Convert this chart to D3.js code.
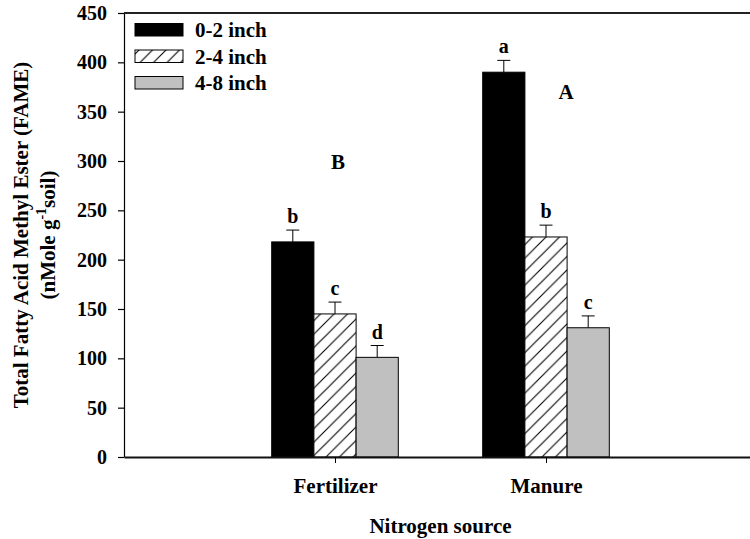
<!DOCTYPE html>
<html>
<head>
<meta charset="utf-8">
<script src="https://cdn.jsdelivr.net/npm/d3@7"></script>
<style>
  html, body { margin: 0; padding: 0; background: #fff; }
  svg { display: block; }
  text { font-family: "Liberation Serif", "Times New Roman", serif; font-weight: bold; fill: #000; }
</style>
</head>
<body>
<svg id="chart" width="750" height="539"></svg>
<script>
// Nitrogen sources and soil depth layers
const sources = ["Fertilizer", "Manure"];
const depths = ["0-2 inch", "2-4 inch", "4-8 inch"];

// Mean total FAME (nMole g-1 soil) per depth, one array per depth layer
const depth0to2 = [218, 390];
const depth2to4 = [145, 223];
const depth4to8 = [101, 131];

// Standard errors (upper bars only)
const err0to2 = [12, 12];
const err2to4 = [12, 12];
const err4to8 = [12, 12];

// Mean separation letters within each source, and letters between sources
const letters0to2 = ["b", "a"];
const letters2to4 = ["c", "b"];
const letters4to8 = ["d", "c"];
const sourceLetters = ["B", "A"];
const sourceLetterValues = [292, 363];

const yTicks = [0, 50, 100, 150, 200, 250, 300, 350, 400, 450];

const values = [depth0to2, depth2to4, depth4to8];
const errors = [err0to2, err2to4, err4to8];
const letters = [letters0to2, letters2to4, letters4to8];

const svg = d3.select("#chart");

const plotLeft = 124, plotTop = 13, plotBottom = 457;
// the category axis runs 0..3 with sources at 1 and 2; its right end lies past the frame
const x = d3.scaleLinear().domain([0, 3]).range([plotLeft, 757]);
const y = d3.scaleLinear().domain([0, 450]).range([plotBottom, plotTop]);
const barW = 0.2; // bar width in category units

const fills = ["#000000", "url(#hatch)", "#c0c0c0"];

// Diagonal hatching for the 2-4 inch layer
const hp = 13.5;
const defs = svg.append("defs");
const pat = defs.append("pattern")
  .attr("id", "hatch")
  .attr("patternUnits", "userSpaceOnUse")
  .attr("width", hp).attr("height", hp);
pat.append("rect").attr("width", hp).attr("height", hp).attr("fill", "#fff");
pat.append("path")
  .attr("d", `M-1,1 L1,-1 M0,${hp} L${hp},0 M${hp - 1},${hp + 1} L${hp + 1},${hp - 1}`)
  .attr("stroke", "#000").attr("stroke-width", 1.1);

// Bars
const bars = [];
sources.forEach((s, i) => {
  depths.forEach((d, j) => {
    bars.push({ i, j, v: values[j][i], e: errors[j][i], l: letters[j][i] });
  });
});

const g = svg.append("g");

// Error bars (drawn first, bars sit on top)
g.selectAll("line.err").data(bars).join("line")
  .attr("class", "err")
  .attr("x1", d => x(d.i + 1 + (d.j - 1) * barW))
  .attr("x2", d => x(d.i + 1 + (d.j - 1) * barW))
  .attr("y1", d => y(d.v))
  .attr("y2", d => y(d.v + d.e))
  .attr("stroke", "#000").attr("stroke-width", 1);
g.selectAll("line.cap").data(bars).join("line")
  .attr("class", "cap")
  .attr("x1", d => x(d.i + 1 + (d.j - 1) * barW) - 6.5)
  .attr("x2", d => x(d.i + 1 + (d.j - 1) * barW) + 6.5)
  .attr("y1", d => y(d.v + d.e))
  .attr("y2", d => y(d.v + d.e))
  .attr("stroke", "#000").attr("stroke-width", 1);

g.selectAll("rect.bar").data(bars).join("rect")
  .attr("class", "bar")
  .attr("x", d => x(d.i + 1 + (d.j - 1.5) * barW))
  .attr("width", d => x(barW) - x(0))
  .attr("y", d => y(d.v))
  .attr("height", d => y(0) - y(d.v))
  .attr("fill", d => fills[d.j])
  .attr("stroke", "#000").attr("stroke-width", 1);

// Letters above error bars
g.selectAll("text.let").data(bars).join("text")
  .attr("class", "let")
  .attr("x", d => x(d.i + 1 + (d.j - 1) * barW))
  .attr("y", d => y(d.v + d.e) - 7)
  .attr("text-anchor", "middle")
  .attr("font-size", 20)
  .text(d => d.l);

// Source-level letters
g.selectAll("text.src").data(sources).join("text")
  .attr("class", "src")
  .attr("x", (d, i) => x(i + 1) + (i === 0 ? 3 : 20))
  .attr("y", (d, i) => y(sourceLetterValues[i]))
  .attr("text-anchor", "middle")
  .attr("font-size", 21)
  .text((d, i) => sourceLetters[i]);

// Axes
const yAxis = d3.axisLeft(y).tickValues(yTicks).tickSize(6).tickPadding(11).tickSizeOuter(0);
const yG = svg.append("g").attr("transform", `translate(${plotLeft},0)`).call(yAxis);
yG.selectAll("text").attr("font-size", 20).attr("font-family", "Liberation Serif").attr("font-weight", "bold").attr("fill", "#000");
yG.select(".domain").attr("stroke", "#000").attr("stroke-width", 1.2);
yG.selectAll(".tick line").attr("stroke", "#000").attr("stroke-width", 1.2);

const xAxis = d3.axisBottom(x).tickValues([1, 2]).tickFormat((d) => sources[d - 1]).tickSize(6).tickPadding(15).tickSizeOuter(0);
const xG = svg.append("g").attr("transform", `translate(0,${plotBottom})`).call(xAxis);
xG.selectAll("text").attr("font-size", 21).attr("font-family", "Liberation Serif").attr("font-weight", "bold").attr("fill", "#000");
xG.select(".domain").attr("stroke", "#111").attr("stroke-width", 2.2);
xG.selectAll(".tick line").attr("stroke", "#000").attr("stroke-width", 1);

// Top frame line
svg.append("line")
  .attr("x1", plotLeft).attr("x2", 757)
  .attr("y1", y(450)).attr("y2", y(450))
  .attr("stroke", "#222").attr("stroke-width", 2);

// Axis titles
svg.append("text")
  .attr("x", x(1.5)).attr("y", 533)
  .attr("text-anchor", "middle")
  .attr("font-size", 21)
  .text("Nitrogen source");

const yt = svg.append("g")
  .attr("transform", `translate(0,${(plotTop + plotBottom) / 2}) rotate(-90)`);
yt.append("text")
  .attr("x", 0).attr("y", 28)
  .attr("text-anchor", "middle")
  .attr("font-size", 21)
  .text("Total Fatty Acid Methyl Ester (FAME)");
const t2 = yt.append("text")
  .attr("x", 0).attr("y", 55)
  .attr("text-anchor", "middle")
  .attr("font-size", 21);
t2.append("tspan").text("(nMole g");
t2.append("tspan").attr("dy", -9).attr("font-size", 14).text("-1");
t2.append("tspan").attr("dy", 9).text("soil)");

// Legend
const leg = svg.append("g");
depths.forEach((d, j) => {
  const cy = 30 + j * 26.5;
  leg.append("rect")
    .attr("x", 135).attr("y", cy - 6.5)
    .attr("width", 48).attr("height", 12.5)
    .attr("fill", fills[j]).attr("stroke", "#000").attr("stroke-width", 1);
  leg.append("text")
    .attr("x", 195).attr("y", cy + 7)
    .attr("font-size", 21)
    .text(d);
});
</script>
</body>
</html>
